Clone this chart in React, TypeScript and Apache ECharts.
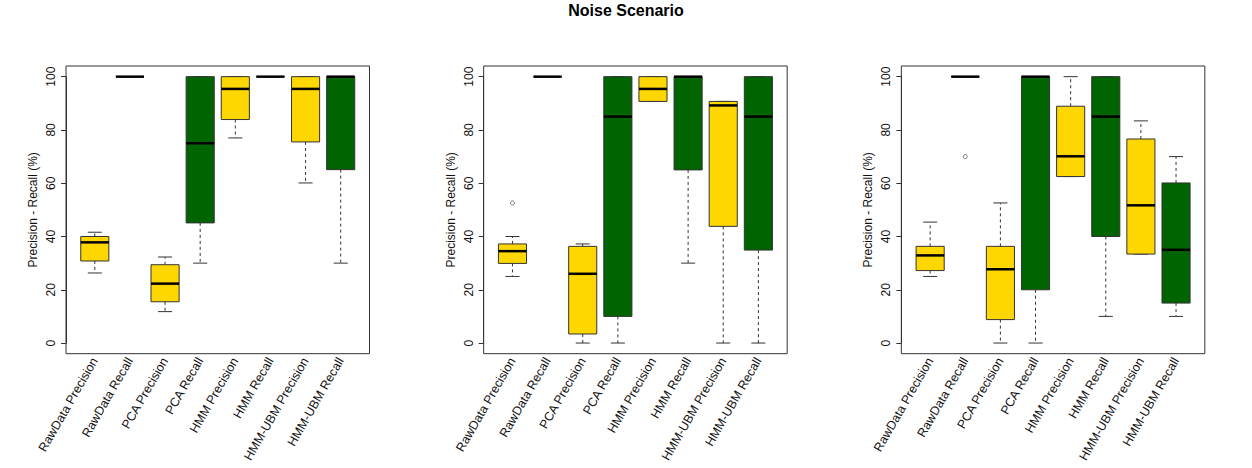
import React, { useEffect, useRef } from "react";
import * as echarts from "echarts";

const categories = [
  "RawData Precision",
  "RawData Recall",
  "PCA Precision",
  "PCA Recall",
  "HMM Precision",
  "HMM Recall",
  "HMM-UBM Precision",
  "HMM-UBM Recall",
];

// [min, Q1, median, Q3, max]
const panel1Stats = [
  [26.3, 30.8, 37.8, 40.0, 41.6],
  [100, 100, 100, 100, 100],
  [11.8, 15.5, 22.3, 29.4, 32.3],
  [30.0, 45.1, 75.0, 100, 100],
  [77.0, 83.9, 95.4, 100, 100],
  [100, 100, 100, 100, 100],
  [60.1, 75.5, 95.4, 100, 100],
  [30.0, 65.1, 100, 100, 100],
];

const panel2Stats = [
  [25.0, 29.9, 34.5, 37.2, 40.0],
  [100, 100, 100, 100, 100],
  [0, 3.4, 26.0, 36.3, 37.2],
  [0, 10.0, 85.0, 100, 100],
  [90.7, 90.7, 95.4, 100, 100],
  [30.0, 65.0, 100, 100, 100],
  [0, 43.8, 89.2, 90.7, 90.7],
  [0, 34.9, 85.0, 100, 100],
];

const panel3Stats = [
  [25.0, 27.2, 32.9, 36.3, 45.4],
  [100, 100, 100, 100, 100],
  [0, 8.8, 27.7, 36.3, 52.6],
  [0, 20.0, 100, 100, 100],
  [62.5, 62.5, 70.1, 88.9, 100],
  [10.0, 40.0, 85.0, 100, 100],
  [33.4, 33.4, 51.7, 76.6, 83.4],
  [10.0, 15.0, 35.0, 60.1, 70.0],
];

// [category index, value]
const panel1Outliers: number[][] = [];
const panel2Outliers = [[0, 52.6]];
const panel3Outliers = [[1, 70.0]];

const boxColors = ["#FFD700", "#006400"];
const yTicks = { min: 0, max: 100, interval: 20 };
const titleText = "Noise Scenario";
const yName = "Precision - Recall (%)";

const FONT = "'Liberation Sans', Arial, Helvetica, sans-serif";

export default function App() {
  const ref = useRef<HTMLDivElement>(null);

  useEffect(() => {
    if (!ref.current) return;
    const chart = echarts.init(ref.current, undefined, { renderer: "svg" });

    const panels = [
      { stats: panel1Stats, outliers: panel1Outliers },
      { stats: panel2Stats, outliers: panel2Outliers },
      { stats: panel3Stats, outliers: panel3Outliers },
    ];

    const frameLeft0 = 66;
    const panelStep = 417.67;
    const frameW = 303.5;
    const frameTop = 66;
    const frameH = 287.7;
    const unitX = frameW / 8.64;
    const padX = 0.32 * unitX;
    const unitY = frameH / 108;
    const innerTop = frameTop + 4 * unitY;
    const innerH = 100 * unitY;
    const padBottom = 4 * unitY;

    const grids: any[] = [];
    const xAxes: any[] = [];
    const yAxes: any[] = [];
    const series: any[] = [];
    const graphics: any[] = [];

    panels.forEach((p, i) => {
      const fl = frameLeft0 + i * panelStep;
      grids.push({
        left: fl + padX,
        top: innerTop,
        width: frameW - 2 * padX,
        height: innerH,
        containLabel: false,
      });
      graphics.push({
        type: "rect",
        shape: { x: fl, y: frameTop, width: frameW, height: frameH },
        style: { fill: "none", stroke: "#333", lineWidth: 1 },
        z: 10,
        silent: true,
      });
      xAxes.push({
        type: "category",
        gridIndex: i,
        data: categories,
        boundaryGap: true,
        offset: padBottom,
        axisLine: { show: false },
        axisTick: { show: false },
        axisLabel: {
          interval: 0,
          rotate: 60,
          margin: 5,
          fontSize: 12.5,
          color: "#111",
          fontFamily: FONT,
        },
        splitLine: { show: false },
      });
      yAxes.push({
        type: "value",
        gridIndex: i,
        min: yTicks.min,
        max: yTicks.max,
        interval: yTicks.interval,
        offset: padX,
        name: yName,
        nameLocation: "middle",
        nameRotate: 90,
        nameGap: 27,
        nameTextStyle: { fontSize: 12, color: "#111", fontFamily: FONT },
        axisLine: { show: true, lineStyle: { color: "#333", width: 1 } },
        axisTick: { show: true, length: 5, lineStyle: { color: "#333" } },
        axisLabel: {
          rotate: 90,
          margin: 9,
          fontSize: 12,
          color: "#111",
          fontFamily: FONT,
        },
        splitLine: { show: false },
      });

      series.push({
        type: "custom",
        xAxisIndex: i,
        yAxisIndex: i,
        data: p.stats.map((s, k) => [k, ...s]),
        encode: { x: 0, y: [1, 2, 3, 4, 5] },
        renderItem: (params: any, api: any) => {
          const idx = api.value(0);
          const mn = api.coord([idx, api.value(1)]);
          const q1 = api.coord([idx, api.value(2)]);
          const md = api.coord([idx, api.value(3)]);
          const q3 = api.coord([idx, api.value(4)]);
          const mx = api.coord([idx, api.value(5)]);
          const band = api.size([1, 0])[0];
          const bw = band * 0.8;
          const cap = bw * 0.5;
          const cx = mn[0];
          const color = boxColors[params.dataIndex % 2];
          const whisk = { stroke: "#333", lineWidth: 1, lineDash: [3, 3] };
          const solid = { stroke: "#333", lineWidth: 1 };
          return {
            type: "group",
            children: [
              { type: "line", shape: { x1: cx, y1: q3[1], x2: cx, y2: mx[1] }, style: whisk },
              { type: "line", shape: { x1: cx, y1: q1[1], x2: cx, y2: mn[1] }, style: whisk },
              { type: "line", shape: { x1: cx - cap / 2, y1: mx[1], x2: cx + cap / 2, y2: mx[1] }, style: solid },
              { type: "line", shape: { x1: cx - cap / 2, y1: mn[1], x2: cx + cap / 2, y2: mn[1] }, style: solid },
              {
                type: "rect",
                shape: { x: cx - bw / 2, y: q3[1], width: bw, height: q1[1] - q3[1] },
                style: { fill: color, stroke: "#333", lineWidth: 1 },
              },
              {
                type: "line",
                shape: { x1: cx - bw / 2, y1: md[1], x2: cx + bw / 2, y2: md[1] },
                style: { stroke: "#000", lineWidth: 2.5 },
              },
            ],
          };
        },
      });

      series.push({
        type: "scatter",
        xAxisIndex: i,
        yAxisIndex: i,
        data: p.outliers,
        symbol: "circle",
        symbolSize: 4,
        itemStyle: { color: "rgba(0,0,0,0)", borderColor: "#555", borderWidth: 1 },
      });
    });

    chart.setOption({
      animation: false,
      backgroundColor: "#fff",
      title: {
        text: titleText,
        left: "center",
        top: 2,
        padding: 0,
        textStyle: { fontSize: 16, fontWeight: "bold", color: "#000", fontFamily: FONT },
      },
      grid: grids,
      xAxis: xAxes,
      yAxis: yAxes,
      series,
      graphic: graphics,
    });

    return () => chart.dispose();
  }, []);

  return (
    <div
      ref={ref}
      style={{ position: "absolute", left: 0, top: 0, width: 1252, height: 468 }}
    />
  );
}
